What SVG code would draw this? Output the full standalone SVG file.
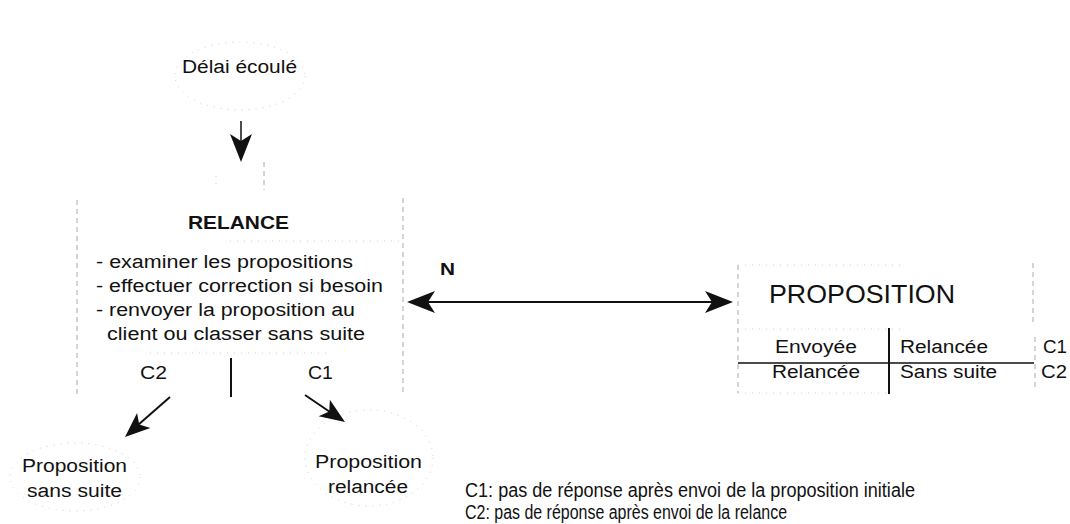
<svg xmlns="http://www.w3.org/2000/svg" width="1070" height="524" viewBox="0 0 1070 524">
<style>
text{font-family:"Liberation Sans",Arial,sans-serif;fill:#111;font-size:18px}
.b{font-weight:bold}
.lg{font-size:20px}
.faint{fill:none;stroke:#aaa;stroke-width:1;stroke-dasharray:5 4}
.vfaint{fill:none;stroke:#d0d0d0;stroke-width:1;stroke-dasharray:1 6}
.solid{fill:none;stroke:#111;stroke-width:1.5}
.thick{fill:none;stroke:#111;stroke-width:2}
.head{fill:#111;stroke:none}
</style>
<defs>
<path id="ah" d="M0,0 L-28,-11 L-21,0 L-28,11 Z"/>
<path id="ahs" d="M0,0 L-25,-10 L-19,0 L-25,10 Z"/>
</defs>
<rect width="1070" height="524" fill="#fff"/>

<g id="node-delai">
<ellipse class="vfaint" cx="240" cy="76" rx="65" ry="34"/>
<text x="182" y="73" textLength="115" lengthAdjust="spacingAndGlyphs">Délai écoulé</text>
</g>

<g id="node-relance">
<line class="faint" x1="77" y1="200" x2="77" y2="398"/>
<line class="faint" x1="403" y1="198" x2="403" y2="396"/>
<line class="vfaint" x1="216" y1="176" x2="216" y2="190"/>
<line class="faint" x1="264" y1="162" x2="264" y2="190"/>
<line class="vfaint" x1="230" y1="241" x2="400" y2="241"/>
<line class="vfaint" x1="150" y1="353" x2="330" y2="353"/>
<text class="b" x="188" y="229" textLength="101" lengthAdjust="spacingAndGlyphs">RELANCE</text>
<text x="96" y="268" textLength="257" lengthAdjust="spacingAndGlyphs">- examiner les propositions</text>
<text x="96" y="292" textLength="287" lengthAdjust="spacingAndGlyphs">- effectuer correction si besoin</text>
<text x="96" y="316" textLength="259" lengthAdjust="spacingAndGlyphs">- renvoyer la proposition au</text>
<text x="107" y="340" textLength="258" lengthAdjust="spacingAndGlyphs">client ou classer sans suite</text>
<text x="140" y="379" textLength="27" lengthAdjust="spacingAndGlyphs">C2</text>
<text x="308" y="379" textLength="25" lengthAdjust="spacingAndGlyphs">C1</text>
<line class="thick" x1="231" y1="358" x2="231" y2="397"/>
</g>

<g id="node-proposition">
<line class="faint" x1="738" y1="265" x2="738" y2="393"/>
<line class="faint" x1="1033" y1="263" x2="1033" y2="322"/>
<line class="faint" x1="1035" y1="337" x2="1035" y2="390"/>
<line class="vfaint" x1="738" y1="265" x2="900" y2="265"/>
<line class="vfaint" x1="738" y1="329" x2="900" y2="329"/>
<line class="vfaint" x1="738" y1="393" x2="889" y2="393"/>
<line class="solid" x1="738" y1="363" x2="1034" y2="363"/>
<line class="thick" x1="889" y1="328" x2="889" y2="394"/>
<text x="769" y="303" style="font-size:25px" textLength="186" lengthAdjust="spacingAndGlyphs">PROPOSITION</text>
<text x="775" y="353" textLength="82" lengthAdjust="spacingAndGlyphs">Envoyée</text>
<text x="900" y="353" textLength="88" lengthAdjust="spacingAndGlyphs">Relancée</text>
<text x="1043" y="353" textLength="24" lengthAdjust="spacingAndGlyphs">C1</text>
<text x="772" y="378" textLength="88" lengthAdjust="spacingAndGlyphs">Relancée</text>
<text x="900" y="378" textLength="97" lengthAdjust="spacingAndGlyphs">Sans suite</text>
<text x="1041" y="378" textLength="26" lengthAdjust="spacingAndGlyphs">C2</text>
</g>

<g id="node-sans-suite">
<ellipse class="vfaint" cx="75" cy="477" rx="65" ry="34"/>
<text x="22" y="472" textLength="105" lengthAdjust="spacingAndGlyphs">Proposition</text>
<text x="27" y="497" textLength="95" lengthAdjust="spacingAndGlyphs">sans suite</text>
</g>

<g id="node-relancee">
<ellipse class="vfaint" cx="369" cy="458" rx="64" ry="48"/>
<text x="315" y="468" textLength="107" lengthAdjust="spacingAndGlyphs">Proposition</text>
<text x="328" y="493" textLength="80" lengthAdjust="spacingAndGlyphs">relancée</text>
</g>

<g id="legend">
<text class="lg" x="465" y="497" textLength="450" lengthAdjust="spacingAndGlyphs">C1: pas de réponse après envoi de la proposition initiale</text>
<text class="lg" x="465" y="519" textLength="322" lengthAdjust="spacingAndGlyphs">C2: pas de réponse après envoi de la relance</text>
</g>

<g id="connectors">
<line class="solid" x1="241" y1="121" x2="241" y2="145"/>
<use href="#ah" class="head" transform="translate(241,162) rotate(90)"/>
<text class="b" x="440" y="275" style="font-size:16px" textLength="15" lengthAdjust="spacingAndGlyphs">N</text>
<line class="thick" x1="425" y1="302" x2="715" y2="302"/>
<use href="#ah" class="head" transform="translate(407,302) rotate(180)"/>
<use href="#ah" class="head" transform="translate(733,302)"/>
<line class="thick" x1="170" y1="397" x2="138" y2="425"/>
<use href="#ahs" class="head" transform="translate(125,437) rotate(138.4)"/>
<line class="thick" x1="305" y1="395" x2="330" y2="412"/>
<use href="#ahs" class="head" transform="translate(345,422) rotate(34)"/>
</g>
</svg>
